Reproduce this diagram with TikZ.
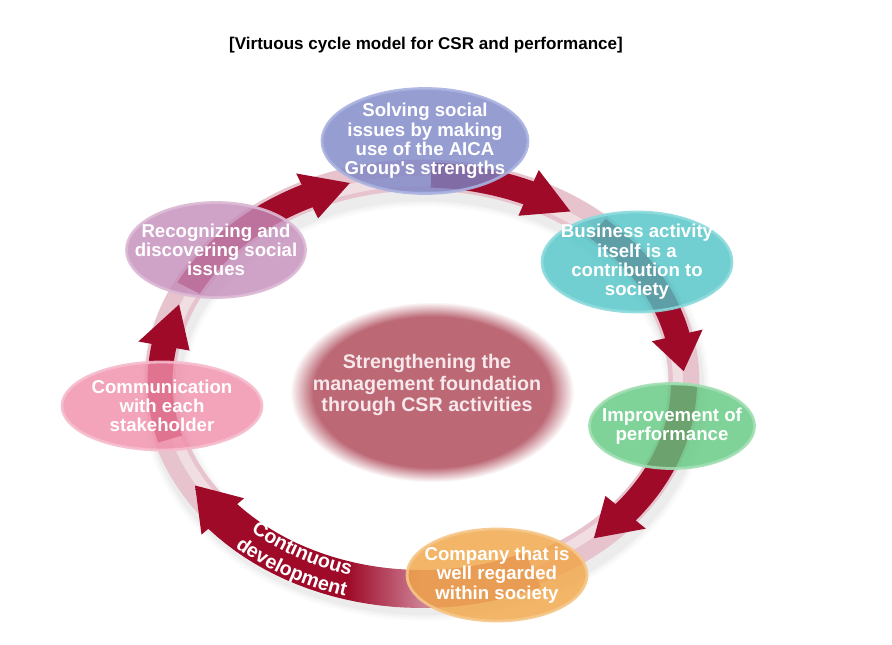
\documentclass[tikz,border=0pt]{standalone}
\usepackage{fontspec}
\setmainfont{Liberation Sans}
\usetikzlibrary{shapes.geometric,decorations.text}

\definecolor{ArrowRed}{RGB}{158,10,40}
\definecolor{ArrowFade}{RGB}{205,130,150}
\definecolor{RingPink}{RGB}{231,195,205}
\definecolor{CoreRose}{RGB}{188,104,117}
\definecolor{CoreText}{RGB}{246,232,235}
\definecolor{BlueFill}{RGB}{124,133,198}   \definecolor{BlueEdge}{RGB}{170,178,224}
\definecolor{MauveFill}{RGB}{196,140,186}  \definecolor{MauveEdge}{RGB}{220,185,212}
\definecolor{TealFill}{RGB}{78,196,198}    \definecolor{TealEdge}{RGB}{140,218,220}
\definecolor{GreenFill}{RGB}{96,201,128}   \definecolor{GreenEdge}{RGB}{160,222,178}
\definecolor{OrangeFill}{RGB}{241,164,68}  \definecolor{OrangeEdge}{RGB}{246,198,135}
\definecolor{PinkFill}{RGB}{240,142,170}   \definecolor{PinkEdge}{RGB}{246,188,205}

\pgfdeclareradialshading{coreblur}{\pgfpoint{0bp}{0bp}}{color(0bp)=(CoreRose); color(20.5bp)=(CoreRose); color(24.5bp)=(white); color(50bp)=(white)}
\pgfdeclarehorizontalshading{devfade}{100bp}{color(0bp)=(ArrowRed); color(47bp)=(ArrowRed); color(58bp)=(ArrowFade); color(100bp)=(ArrowFade)}

\newcommand{\bubblefont}{\fontsize{10.6}{11}\selectfont\bfseries}
\newcommand{\arcfont}{\fontsize{11.2}{12}\selectfont\bfseries}

\tikzset{
  bubble/.style={ellipse, inner sep=-12pt, line width=1.6pt, fill opacity=0.8, draw opacity=0.9,
    text opacity=1, text=white, align=center, font=\bubblefont},
  arctext/.style={decorate, decoration={text along path, text={|\arcfont|#1}, text align=center, text color=white}}
}

% ring geometry (pixels)
\def\ringx{422} \def\ringy{382} \def\ringa{262} \def\ringb{207}

% #2 start angle, #3 head base, #4 tip, #5 half body, #6 half head
\newcommand{\cyclearrow}[6][fill=ArrowRed]{%
  \path[#1] plot[domain=#2:#3, samples=30, variable=\t] ({\ringx+(\ringa+#5)*cos(\t)},{\ringy+(\ringb+#5)*sin(\t)})
    -- ({\ringx+(\ringa+#6)*cos(#3)},{\ringy+(\ringb+#6)*sin(#3)})
    -- ({\ringx+\ringa*cos(#4)},{\ringy+\ringb*sin(#4)})
    -- ({\ringx+(\ringa-#6)*cos(#3)},{\ringy+(\ringb-#6)*sin(#3)})
    -- plot[domain=#3:#2, samples=30, variable=\t] ({\ringx+(\ringa-#5)*cos(\t)},{\ringy+(\ringb-#5)*sin(\t)})
    -- cycle;}

\begin{document}
\begin{tikzpicture}[x=0.02cm,y=-0.02cm]
    \fill[white] (0,0) rectangle (892,645);
    \useasboundingbox (0,0) rectangle (892,645);

    % title
    \node[font=\fontsize{9.7}{11}\selectfont\bfseries] (title) at (426,45) {[Virtuous cycle model for CSR and performance]};

    % ring with soft shadow
    \foreach \w/\o in {0.9/0.02,0.8/0.025,0.7/0.03}
        \draw[black, opacity=\o, line width=\w cm] (\ringx+3,\ringy+9) ellipse[x radius=5.24cm, y radius=4.14cm];
    \draw[RingPink, line width=0.62cm] (\ringx,\ringy) ellipse[x radius=5.24cm, y radius=4.14cm];
    \draw[white, opacity=0.45, line width=0.2cm] (\ringx,\ringy) ellipse[x radius=5.12cm, y radius=4.02cm];

    % centre
    \shade[shading=coreblur] (432,392) ellipse[x radius=2.9cm, y radius=1.84cm];
    \node[font=\fontsize{11.2}{12.2}\selectfont\bfseries, text=CoreText, align=center] (core) at (427,385)
        {Strengthening the\\management foundation\\through CSR activities};

    % arrows
    \cyclearrow{207}{244}{254}{12.5}{25}
    \cyclearrow{272}{294}{304.5}{12.5}{25}
    \cyclearrow{312}{347}{357}{12.5}{26}
    \cyclearrow{1}{39}{49}{13}{26}
    \cyclearrow[shade, shading=devfade]{65}{139.5}{150}{19}{28}
    \cyclearrow{164}{190}{202}{12.5}{26}

    \path[arctext={Continuous}] plot[domain=140:99, samples=40, variable=\t] ({\ringx+(\ringa-6)*cos(\t)},{\ringy+(\ringb-6)*sin(\t)});
    \path[arctext={development}] plot[domain=140:99, samples=40, variable=\t] ({\ringx+(\ringa+16)*cos(\t)},{\ringy+(\ringb+16)*sin(\t)});

    % stages
    \node[bubble, fill=BlueFill, draw=BlueEdge, minimum width=4.12cm, minimum height=2.1cm] (solving) at (425,141)
        {Solving social\\issues by making\\use of the AICA\\Group\textquotesingle s strengths};
    \node[bubble, fill=TealFill, draw=TealEdge, minimum width=3.8cm, minimum height=2.0cm] (business) at (637,262)
        {Business activity\\itself is a\\contribution to\\society};
    \node[bubble, fill=GreenFill, draw=GreenEdge, minimum width=3.3cm, minimum height=1.7cm] (improve) at (672,426)
        {Improvement of\\performance};
    \node[bubble, fill=OrangeFill, draw=OrangeEdge, minimum width=3.6cm, minimum height=1.84cm] (company) at (497,575)
        {Company that is\\well regarded\\within society};
    \node[bubble, fill=PinkFill, draw=PinkEdge, minimum width=4.0cm, minimum height=1.76cm] (communic) at (162,406)
        {Communication\\with each\\stakeholder};
    \node[bubble, fill=MauveFill, draw=MauveEdge, minimum width=3.58cm, minimum height=1.9cm] (recognize) at (216,250)
        {Recognizing and\\discovering social\\issues};
\end{tikzpicture}
\end{document}
